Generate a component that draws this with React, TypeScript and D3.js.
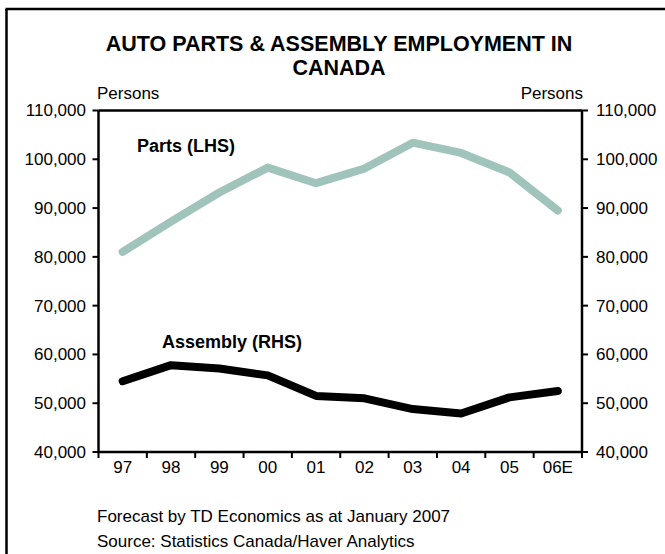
import React from 'react';
import * as d3 from 'd3';

const years = ['97', '98', '99', '00', '01', '02', '03', '04', '05', '06E'];
const partsValues = [81000, 87200, 93200, 98300, 95100, 98100, 103400, 101300, 97300, 89500];
const assemblyValues = [54500, 57800, 57100, 55700, 51500, 51000, 48800, 47900, 51200, 52500];
const yTicks = [40000, 50000, 60000, 70000, 80000, 90000, 100000, 110000];
const titleLines = ['AUTO PARTS & ASSEMBLY EMPLOYMENT IN', 'CANADA'];
const footerLines = ['Forecast by TD Economics as at January 2007', 'Source: Statistics Canada/Haver Analytics'];
const unitLabel = 'Persons';
const seriesLabels = ['Parts (LHS)', 'Assembly (RHS)'];

const FONT = '"Liberation Sans", Arial, Helvetica, sans-serif';

export default function App() {
  const W = 665;
  const H = 554;
  const left = 98.5;
  const right = 582;
  const top = 110.5;
  const bottom = 452;

  const x = d3.scaleBand<string>().domain(years).range([left, right]);
  const yL = d3.scaleLinear().domain([40000, 110000]).range([bottom, top]);
  const yR = d3.scaleLinear().domain([40000, 110000]).range([bottom, top]);
  const fmt = d3.format(',');
  const cx = (i: number) => (x(years[i]) as number) + x.bandwidth() / 2;

  const partsPath = d3.line<number>().x((_, i) => cx(i)).y((d) => yL(d))(partsValues) || '';
  const assemblyPath = d3.line<number>().x((_, i) => cx(i)).y((d) => yR(d))(assemblyValues) || '';

  const boundaries = [...years.map((y) => x(y) as number), right];

  return (
    <svg
      width={W}
      height={H}
      style={{ position: 'absolute', left: 0, top: 0, display: 'block', background: '#fff' }}
      fontFamily={FONT}
    >
      <rect x={0} y={0} width={W} height={H} fill="#fff" />
      {/* outer frame (left and top) */}
      <line x1={6.5} y1={9} x2={6.5} y2={H} stroke="#000" strokeWidth={2.5} />
      <line x1={5.5} y1={9} x2={W} y2={9} stroke="#000" strokeWidth={2.5} />

      {titleLines.map((t, i) => (
        <text key={t} x={339} y={51 + i * 24} textAnchor="middle" fontSize={21.5} fontWeight="bold">
          {t}
        </text>
      ))}

      <text x={97} y={99} fontSize={17}>{unitLabel}</text>
      <text x={583} y={99} fontSize={17} textAnchor="end">{unitLabel}</text>

      {/* series lines */}
      <path d={partsPath} fill="none" stroke="#a0c4bb" strokeWidth={8} strokeLinejoin="round" strokeLinecap="round" />
      <path d={assemblyPath} fill="none" stroke="#000" strokeWidth={8} strokeLinejoin="round" strokeLinecap="round" />

      {/* frame */}
      <line x1={left} y1={top} x2={right} y2={top} stroke="#000" strokeWidth={2.5} />
      <line x1={left} y1={bottom} x2={right} y2={bottom} stroke="#000" strokeWidth={2.5} />
      <line x1={left} y1={top} x2={left} y2={bottom} stroke="#000" strokeWidth={2.5} />
      <line x1={right} y1={top} x2={right} y2={bottom} stroke="#000" strokeWidth={2.5} />

      {/* left axis */}
      {yTicks.map((v) => (
        <g key={'l' + v}>
          <line x1={left - 6} x2={left} y1={yL(v)} y2={yL(v)} stroke="#000" strokeWidth={2} />
          <text x={86} y={yL(v)} dy="0.35em" textAnchor="end" fontSize={17}>{fmt(v)}</text>
        </g>
      ))}
      {/* right axis */}
      {yTicks.map((v) => (
        <g key={'r' + v}>
          <line x1={right} x2={right + 6} y1={yR(v)} y2={yR(v)} stroke="#000" strokeWidth={2} />
          <text x={596} y={yR(v)} dy="0.35em" textAnchor="start" fontSize={17}>{fmt(v)}</text>
        </g>
      ))}
      {/* x axis */}
      {boundaries.map((b, i) => (
        <line key={'t' + i} x1={b} x2={b} y1={bottom} y2={bottom + 6} stroke="#000" strokeWidth={2} />
      ))}
      {years.map((yr, i) => (
        <text key={yr} x={cx(i)} y={473} textAnchor="middle" fontSize={17}>{yr}</text>
      ))}

      <text x={137} y={152} fontSize={18} fontWeight="bold">{seriesLabels[0]}</text>
      <text x={162} y={348} fontSize={18} fontWeight="bold">{seriesLabels[1]}</text>

      {footerLines.map((t, i) => (
        <text key={t} x={97} y={522 + i * 25} fontSize={17}>{t}</text>
      ))}
    </svg>
  );
}
